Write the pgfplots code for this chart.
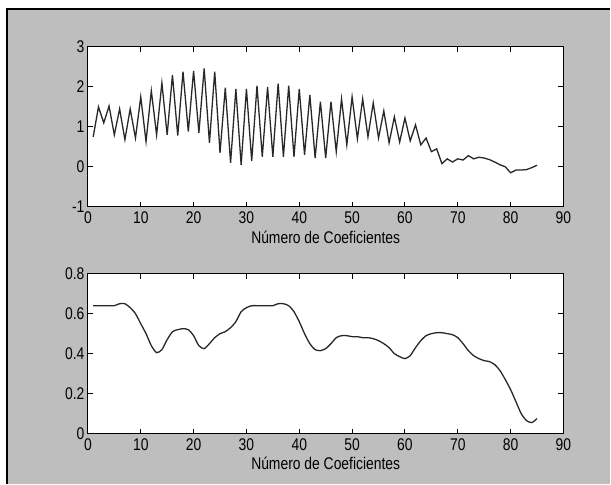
\documentclass[border=0pt]{standalone}
\usepackage{pgfplots}
\pgfplotsset{compat=1.18}
\usepackage{fontspec}
\setmainfont[FakeStretch=0.82]{Liberation Sans}
\definecolor{figbg}{RGB}{190,190,190}
\definecolor{trace}{RGB}{40,40,40}

\pgfplotsset{
  matlab/.style={
    width=476bp, height=160bp, scale only axis,
    anchor=south west,
    xmin=0, xmax=90, xtick distance=10,
    tick align=inside, tick pos=both,
    major tick length=5bp,
    axis background/.style={fill=white},
    axis line style={line width=0.9bp, black},
    every tick/.style={line width=0.9bp, black},
    ticklabel style={font=\fontsize{17}{17}\selectfont},
    xticklabel style={yshift=-1.5bp},
    label style={font=\fontsize{17}{17}\selectfont},
    /pgf/number format/assume math mode=true,
    xlabel={Número de Coeficientes},
    xlabel style={yshift=0bp},
  }
}

\begin{document}
\begin{tikzpicture}[x=1bp,y=1bp]
\fill[white] (0,0) rectangle (611,484);
\fill[figbg] (7,0) rectangle (611,475);
\draw[black, line width=1.2bp] (7,0) -- (7,475) -- (611,475);

% upper plot
\begin{axis}[matlab, at={(88bp,277bp)}, ymin=-1, ymax=3, ytick distance=1]
\addplot[trace, line width=1.3bp, mark=none] coordinates {
(1,0.75) (2,1.5) (3,1.1) (4,1.52) (5,0.8) (6,1.45) (7,0.68) (8,1.45) (9,0.72) (10,1.75)
(11,0.63) (12,1.9) (13,0.8) (14,2.1) (15,0.8) (16,2.3) (17,0.78) (18,2.38) (19,0.88) (20,2.4)
(21,0.85) (22,2.46) (23,0.6) (24,2.38) (25,0.35) (26,1.98) (27,0.1) (28,1.95) (29,0.05) (30,1.95)
(31,0.15) (32,2.03) (33,0.25) (34,2.0) (35,0.25) (36,2.08) (37,0.25) (38,2.03) (39,0.25) (40,1.95)
(41,0.3) (42,1.8) (43,0.22) (44,1.63) (45,0.22) (46,1.63) (47,0.38) (48,1.7) (49,0.55) (50,1.75)
(51,0.7) (52,1.7) (53,0.75) (54,1.6) (55,0.72) (56,1.4) (57,0.6) (58,1.25) (59,0.62) (60,1.22)
(61,0.65) (62,1.05) (63,0.55) (64,0.72) (65,0.38) (66,0.45) (67,0.08) (68,0.2) (69,0.12) (70,0.2)
(71,0.17) (72,0.28) (73,0.2) (74,0.24) (75,0.22) (76,0.18) (77,0.12) (78,0.05) (79,0.0) (80,-0.15)
(81,-0.08) (82,-0.08) (83,-0.07) (84,-0.02) (85,0.04)
};
\end{axis}

% lower plot
\begin{axis}[matlab, at={(88bp,50bp)}, ymin=0, ymax=0.8, ytick={0,0.2,0.4,0.6,0.8}]
\addplot[trace, line width=1.3bp, mark=none, smooth, tension=0.4] coordinates {
(1,0.64) (2,0.64) (3,0.64) (4,0.64) (5,0.64) (6,0.65) (7,0.65) (8,0.63) (9,0.6) (10,0.55)
(11,0.5) (12,0.44) (13,0.405) (14,0.42) (15,0.47) (16,0.51) (17,0.52) (18,0.525) (19,0.52) (20,0.49)
(21,0.44) (22,0.425) (23,0.45) (24,0.48) (25,0.5) (26,0.51) (27,0.53) (28,0.56) (29,0.61) (30,0.63)
(31,0.64) (32,0.64) (33,0.64) (34,0.64) (35,0.64) (36,0.65) (37,0.65) (38,0.64) (39,0.61) (40,0.56)
(41,0.5) (42,0.45) (43,0.42) (44,0.415) (45,0.425) (46,0.45) (47,0.48) (48,0.49) (49,0.49) (50,0.485)
(51,0.485) (52,0.48) (53,0.48) (54,0.475) (55,0.465) (56,0.45) (57,0.43) (58,0.4) (59,0.385) (60,0.375)
(61,0.39) (62,0.43) (63,0.465) (64,0.49) (65,0.5) (66,0.505) (67,0.505) (68,0.5) (69,0.495) (70,0.48)
(71,0.45) (72,0.415) (73,0.39) (74,0.375) (75,0.365) (76,0.36) (77,0.345) (78,0.315) (79,0.27) (80,0.22)
(81,0.16) (82,0.1) (83,0.065) (84,0.055) (85,0.075)
};
\end{axis}
\end{tikzpicture}
\end{document}
